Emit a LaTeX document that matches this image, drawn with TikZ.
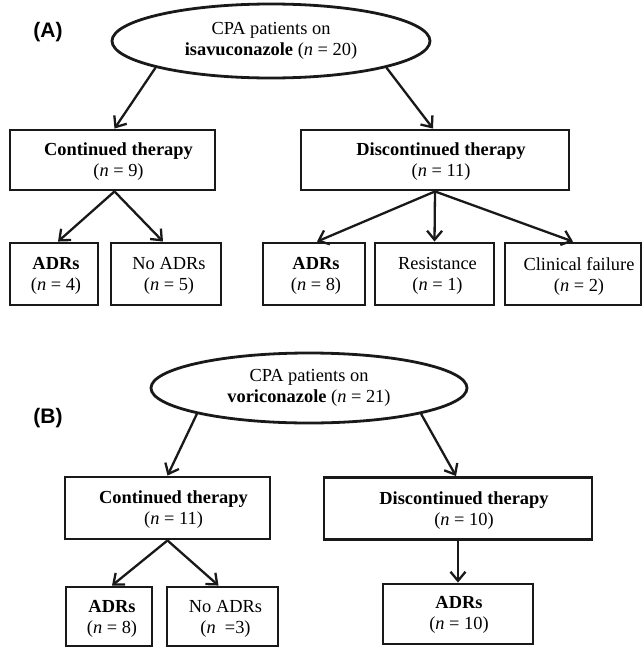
\documentclass[tikz,border=0pt]{standalone}
\usepackage{fontspec}
\setmainfont{Liberation Serif}
\newfontfamily\labfont{Liberation Sans}
\usetikzlibrary{arrows.meta,shapes.geometric}
\tikzset{
  boxnode/.style={draw=black!90, line width=2.9pt, inner sep=0pt, minimum height=#1},
  boxnode/.default=60pt,
  txt/.style={inner sep=0pt, align=center, font=\fontsize{18.4}{21}\selectfont},
  ellnode/.style={draw=black!90, ellipse, line width=2.8pt, inner sep=0pt, align=center,
    font=\fontsize{18.4}{21}\selectfont},
  conn/.style={line width=2.3pt, draw=black!90, -{Straight Barb[length=9pt,width=15pt,line width=2.3pt]}},
  panlab/.style={font=\labfont\bfseries\fontsize{21}{24}\selectfont, inner sep=0pt}
}
\newcommand{\nn}[1]{(\textit{n} = #1)}
\begin{document}
\begin{tikzpicture}[x=1pt,y=-1pt]
\useasboundingbox (0,0) rectangle (643,648);
% Panel A
\node[panlab] (labA) at (48,32) {(A)};
\node[ellnode, minimum width=318pt, minimum height=74pt] (ellA) at (271,41) {CPA patients on\\\textbf{isavuconazole} \nn{20}};
\node[boxnode, minimum width=205pt] (contA) at (112.5,160) {};
\node[txt] (contAt) at ([xshift=6pt,yshift=-2pt]contA.center) {\textbf{Continued therapy}\\\nn{9}};
\node[boxnode, minimum width=268pt] (discA) at (435,160) {};
\node[txt] (discAt) at ([xshift=6pt,yshift=-2pt]discA.center) {\textbf{Discontinued therapy}\\\nn{11}};
\node[boxnode=62pt, minimum width=88pt] (adrA1) at (54,274) {};
\node[txt] (adrA1t) at ([xshift=2pt,yshift=-2pt]adrA1.center) {\textbf{ADRs}\\\nn{4}};
\node[boxnode=62pt, minimum width=110pt] (noadrA) at (166,274) {};
\node[txt] (noadrAt) at ([xshift=3pt,yshift=-2pt]noadrA.center) {No ADRs\\\nn{5}};
\node[boxnode=62pt, minimum width=102pt] (adrA2) at (314,274) {};
\node[txt] (adrA2t) at ([xshift=2pt,yshift=-2pt]adrA2.center) {\textbf{ADRs}\\\nn{8}};
\node[boxnode=62pt, minimum width=119pt] (resA) at (434.5,274) {};
\node[txt] (resAt) at ([xshift=3pt,yshift=-2pt]resA.center) {Resistance\\\nn{1}};
\node[boxnode=62pt, minimum width=136pt] (clinA) at (573,274) {};
\node[txt] (clinAt) at ([xshift=6pt,yshift=-2pt]clinA.center) {Clinical failure\\\nn{2}};
\draw[conn] (ellA.193) -- ([xshift=2pt]contA.north);
\draw[conn] (ellA.347) -- ([xshift=-2pt]discA.north);
\draw[conn] ([xshift=2pt]contA.south) -- ([xshift=4pt]adrA1.north);
\draw[conn] ([xshift=2pt]contA.south) -- ([xshift=-3pt]noadrA.north);
\draw[conn] (discA.south) -- ([xshift=3pt]adrA2.north);
\draw[conn] (discA.south) -- (resA.north);
\draw[conn] (discA.south) -- (clinA.north);
% Panel B
\node[panlab] (labB) at (48,418) {(B)};
\node[ellnode, minimum width=316pt, minimum height=70pt] (ellB) at (309,388) {CPA patients on\\\textbf{voriconazole} \nn{21}};
\node[boxnode=62pt, minimum width=205pt] (contB) at (167.5,508) {};
\node[txt] (contBt) at ([xshift=6pt,yshift=-2pt]contB.center) {\textbf{Continued therapy}\\\nn{11}};
\node[boxnode=62pt, minimum width=268pt] (discB) at (458,508.5) {};
\node[txt] (discBt) at ([xshift=6pt,yshift=-2pt]discB.center) {\textbf{Discontinued therapy}\\\nn{10}};
\node[boxnode=59pt, minimum width=86pt] (adrB1) at (109,616.5) {};
\node[txt] (adrB1t) at ([xshift=3pt,yshift=-2pt]adrB1.center) {\textbf{ADRs}\\\nn{8}};
\node[boxnode=59pt, minimum width=111pt] (noadrB) at (222.5,616.5) {};
\node[txt] (noadrBt) at ([xshift=3pt,yshift=-2pt]noadrB.center) {No ADRs\\(\textit{n}\ \ =3)};
\node[boxnode=60pt, minimum width=150pt] (adrB2) at (458,614) {};
\node[txt] (adrB2t) at ([xshift=1pt,yshift=-1pt]adrB2.center) {\textbf{ADRs}\\\nn{10}};
\draw[conn] (ellB.193) -- (contB.north);
\draw[conn] (ellB.347) -- ([xshift=-2pt]discB.north);
\draw[conn] (contB.south) -- ([xshift=3pt]adrB1.north);
\draw[conn] (contB.south) -- ([xshift=-4pt]noadrB.north);
\draw[conn] (discB.south) -- (adrB2.north);
\end{tikzpicture}
\end{document}
